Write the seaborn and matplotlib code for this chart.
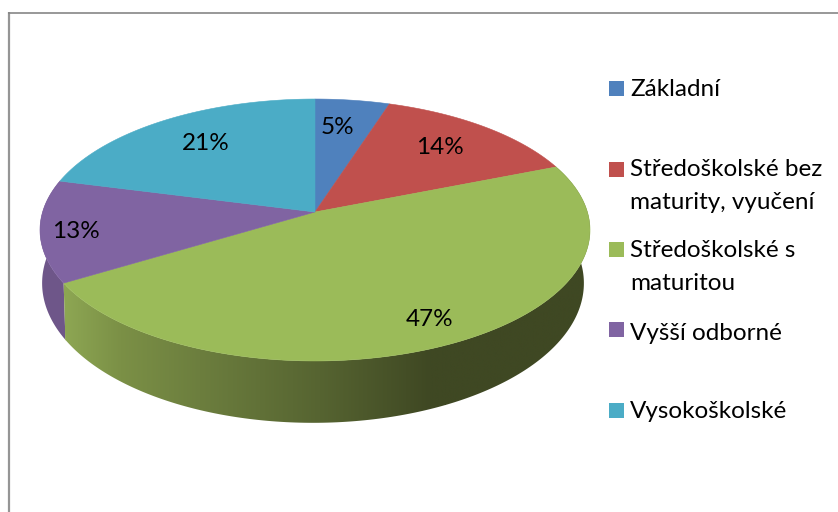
import numpy as np
import matplotlib
matplotlib.use("Agg")
import matplotlib.pyplot as plt
from matplotlib.colors import LinearSegmentedColormap
from matplotlib.patches import Polygon
import seaborn as sns

# --- data -------------------------------------------------------------
categories = ["Základní", "Středoškolské bez\nmaturity, vyučení",
              "Středoškolské s\nmaturitou", "Vyšší odborné", "Vysokoškolské"]
values = [5, 14, 47.4, 12.6, 21]
colors = ["#4F81BD", "#C0504D", "#9BBB59", "#8064A2", "#4BACC6"]

# --- layout (pixels) --------------------------------------------------
W, H = 838, 512
CX, CY = 315, 212
RX, RY, K = 272.4, 128.5, 0.1374
BOT_CX, BOT_SX, BOT_CY, BOT_RY = 313, 0.985, 264, 137
LABEL_XY = [(337, 128), (440, 147), (430, 319), (76, 231), (206, 143)]
LEG_SWATCH_Y = [88, 169, 249, 329, 410]
LEG_TEXT_Y = [89, 186, 267, 333, 412]
FS = 17.5

sns.set_theme(style="white")
plt.rcParams["font.family"] = ["Lato", "DejaVu Sans"]
palette = sns.color_palette(colors)

fig = plt.figure(figsize=(W / 100, H / 100), dpi=100)
ax = fig.add_axes([0, 0, 1, 1])


def rim(deg, bottom=False):
    t = np.radians(deg)
    u, v = np.sin(t), np.cos(t)
    w = 1 + K * v
    if bottom:
        return BOT_CX + BOT_SX * RX * u / w, BOT_CY - BOT_RY * v / w
    return CX + RX * u / w, CY - RY * v / w


def wall_poly(a, b):
    t = np.linspace(a, b, 200)
    xt, yt = rim(t)
    xb, yb = rim(t[::-1], bottom=True)
    return np.column_stack([np.r_[xt, xb], np.r_[yt, yb]])


edges = np.cumsum([0] + values) * 3.6

# side walls
purple_wall = wall_poly(edges[3], edges[4])
ax.fill(purple_wall[:, 0], purple_wall[:, 1], color="#6E5689", lw=0)

green_cmap = LinearSegmentedColormap.from_list(
    "wall", [(0, "#8DA653"), (0.145, "#7B9046"), (0.355, "#6C7E3E"),
             (0.67, "#566431"), (0.96, "#3F4823"), (1, "#3F4823")])
green_wall = wall_poly(edges[2], edges[3])
grad = np.linspace(0, 1, 512)[None, :]
img = ax.imshow(grad, cmap=green_cmap, extent=(65, 445, 430, 160),
                aspect="auto", zorder=1)
ext_l = ax.imshow(grad * 0, cmap=green_cmap, vmin=0, vmax=1,
                  extent=(40, 65, 430, 160), aspect="auto", zorder=1)
ext_r = ax.imshow(grad * 0 + 1, cmap=green_cmap, vmin=0, vmax=1,
                  extent=(445, 600, 430, 160), aspect="auto", zorder=1)
clip = Polygon(green_wall, closed=True, transform=ax.transData, fc="none", ec="none")
ax.add_patch(clip)
for im in (img, ext_l, ext_r):
    im.set_clip_path(clip)

# top face
for i, col in enumerate(palette):
    t = np.linspace(edges[i], edges[i + 1], 200)
    x, y = rim(t)
    ax.fill(np.r_[CX, x], np.r_[CY, y], facecolor=col, edgecolor=col, lw=0.4, zorder=2)

# value labels
for val, (x, y) in zip(values, LABEL_XY):
    ax.text(x, y, f"{val:.0f}%", ha="center", va="center", fontsize=FS,
            color="black", zorder=3)

# legend
for name, col, sy, ty in zip(categories, palette, LEG_SWATCH_Y, LEG_TEXT_Y):
    ax.fill([609, 624, 624, 609], [sy - 7.5, sy - 7.5, sy + 7.5, sy + 7.5],
            color=col, lw=0, zorder=3)
    ax.text(630, ty, name, ha="left", va="center", fontsize=FS, color="black",
            linespacing=1.7, zorder=3)

# chart frame
ax.plot([8.5, 8.5], [12, H], color="#959595", lw=1.6, solid_capstyle="butt")
ax.plot([8, W], [12.5, 12.5], color="#868686", lw=1.2, solid_capstyle="butt")

ax.set_xlim(0, W)
ax.set_ylim(H, 0)
ax.axis("off")
fig.savefig("out.png", dpi=100, facecolor="white")
